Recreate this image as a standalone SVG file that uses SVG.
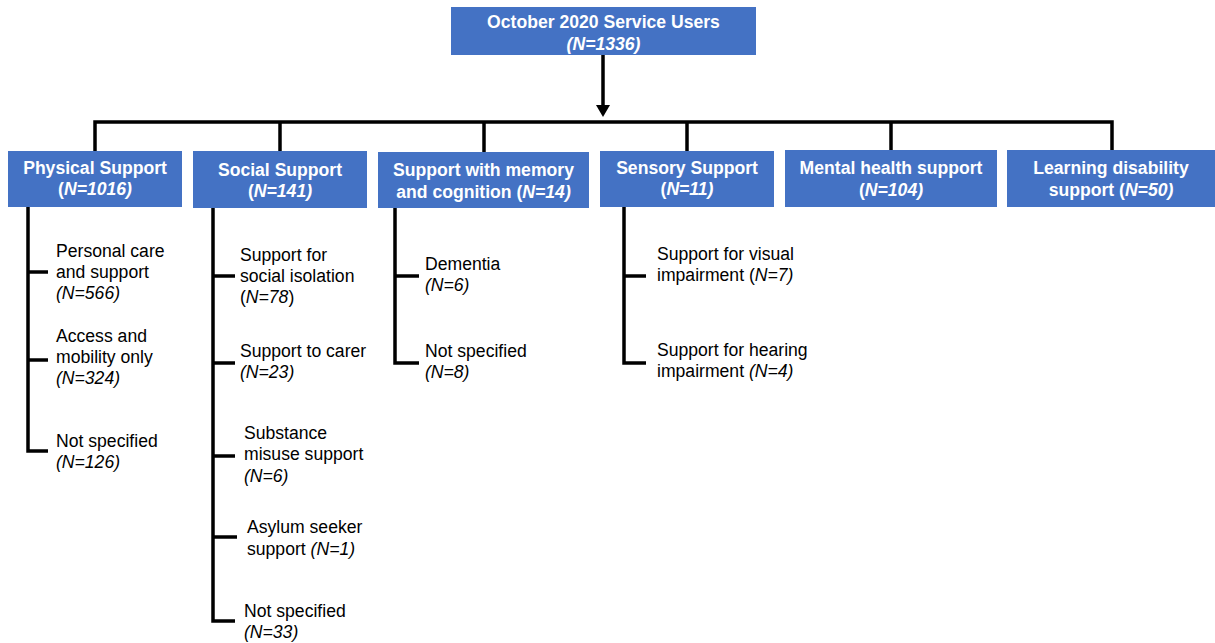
<svg xmlns="http://www.w3.org/2000/svg" width="1215" height="643" viewBox="0 0 1215 643">
<style>
.box{fill:#4472C4;}
.h{font-family:"Liberation Sans",Arial,sans-serif;font-size:17.6px;font-weight:bold;fill:#fff;text-anchor:middle;}
.t{font-family:"Liberation Sans",Arial,sans-serif;font-size:17.6px;fill:#000;}
.i{font-style:italic;}
.ln{stroke:#000;stroke-width:3.5;fill:none;}
</style>
<rect width="1215" height="643" fill="#fff"/>
<g id="connectors">
<line class="ln" x1="603" y1="55" x2="603" y2="106"/>
<polygon points="596,105 610,105 603,117" fill="#000"/>
<polyline class="ln" points="95,151 95,122 1112,122 1112,151"/>
<line class="ln" x1="280" y1="122" x2="280" y2="151"/>
<line class="ln" x1="484" y1="122" x2="484" y2="152"/>
<line class="ln" x1="687" y1="122" x2="687" y2="151"/>
<line class="ln" x1="891" y1="122" x2="891" y2="150"/>
<polyline class="ln" points="28,207 28,451 48,451"/>
<line class="ln" x1="28" y1="272" x2="48" y2="272"/>
<line class="ln" x1="28" y1="360" x2="48" y2="360"/>
<polyline class="ln" points="213,208 213,621 235,621"/>
<line class="ln" x1="213" y1="276" x2="235" y2="276"/>
<line class="ln" x1="213" y1="363" x2="235" y2="363"/>
<line class="ln" x1="213" y1="456" x2="235" y2="456"/>
<line class="ln" x1="213" y1="537" x2="237" y2="537"/>
<polyline class="ln" points="395,208 395,363 419,363"/>
<line class="ln" x1="395" y1="276" x2="419" y2="276"/>
<polyline class="ln" points="624,207 624,363 646,363"/>
<line class="ln" x1="624" y1="276" x2="646" y2="276"/>
</g>
<g id="top">
<rect class="box" x="451" y="7" width="305" height="48"/>
<text class="h" x="603.5" y="28">October 2020 Service Users</text>
<text class="h i" x="603.5" y="50">(N=1336)</text>
</g>
<g id="physical">
<rect class="box" x="8" y="151" width="174" height="56"/>
<text class="h" x="95" y="174">Physical Support</text>
<text class="h" x="95" y="195">(<tspan class="i">N=1016)</tspan></text>
</g>
<g id="social">
<rect class="box" x="193" y="151" width="174" height="57"/>
<text class="h" x="280" y="176">Social Support</text>
<text class="h" x="280" y="197">(<tspan class="i">N=141)</tspan></text>
</g>
<g id="memory">
<rect class="box" x="378" y="152" width="211" height="56"/>
<text class="h" x="483.5" y="176">Support with memory</text>
<text class="h" x="483.5" y="198">and cognition (<tspan class="i">N=14)</tspan></text>
</g>
<g id="sensory">
<rect class="box" x="600" y="151" width="174" height="56"/>
<text class="h" x="687" y="174">Sensory Support</text>
<text class="h" x="687" y="195">(<tspan class="i">N=11)</tspan></text>
</g>
<g id="mental">
<rect class="box" x="785" y="150" width="212" height="57"/>
<text class="h" x="891" y="174">Mental health support</text>
<text class="h" x="891" y="196">(<tspan class="i">N=104)</tspan></text>
</g>
<g id="learning">
<rect class="box" x="1007" y="150" width="208" height="57"/>
<text class="h" x="1111" y="174">Learning disability</text>
<text class="h" x="1111" y="196">support (<tspan class="i">N=50)</tspan></text>
</g>
<g id="physical-children">
<text class="t" x="56" y="257">Personal care</text>
<text class="t" x="56" y="278">and support</text>
<text class="t i" x="56" y="299">(N=566)</text>
<text class="t" x="56" y="342">Access and</text>
<text class="t" x="56" y="363">mobility only</text>
<text class="t i" x="56" y="384">(N=324)</text>
<text class="t" x="56" y="447">Not specified</text>
<text class="t i" x="56" y="468">(N=126)</text>
</g>
<g id="social-children">
<text class="t" x="240" y="261">Support for</text>
<text class="t" x="240" y="282">social isolation</text>
<text class="t" x="240" y="303">(<tspan class="i">N=78</tspan>)</text>
<text class="t" x="240" y="357">Support to carer</text>
<text class="t i" x="240" y="378">(N=23)</text>
<text class="t" x="244" y="439">Substance</text>
<text class="t" x="244" y="460">misuse support</text>
<text class="t i" x="244" y="482">(N=6)</text>
<text class="t" x="247" y="533">Asylum seeker</text>
<text class="t" x="247" y="555">support <tspan class="i">(N=1)</tspan></text>
<text class="t" x="244" y="617">Not specified</text>
<text class="t i" x="244" y="638">(N=33)</text>
</g>
<g id="memory-children">
<text class="t" x="425" y="270">Dementia</text>
<text class="t i" x="425" y="291">(N=6)</text>
<text class="t" x="425" y="357">Not specified</text>
<text class="t i" x="425" y="378">(N=8)</text>
</g>
<g id="sensory-children">
<text class="t" x="657" y="260">Support for visual</text>
<text class="t" x="657" y="281">impairment  (<tspan class="i">N=7)</tspan></text>
<text class="t" x="657" y="356">Support for hearing</text>
<text class="t" x="657" y="377">impairment  <tspan class="i">(N=4)</tspan></text>
</g>
</svg>
